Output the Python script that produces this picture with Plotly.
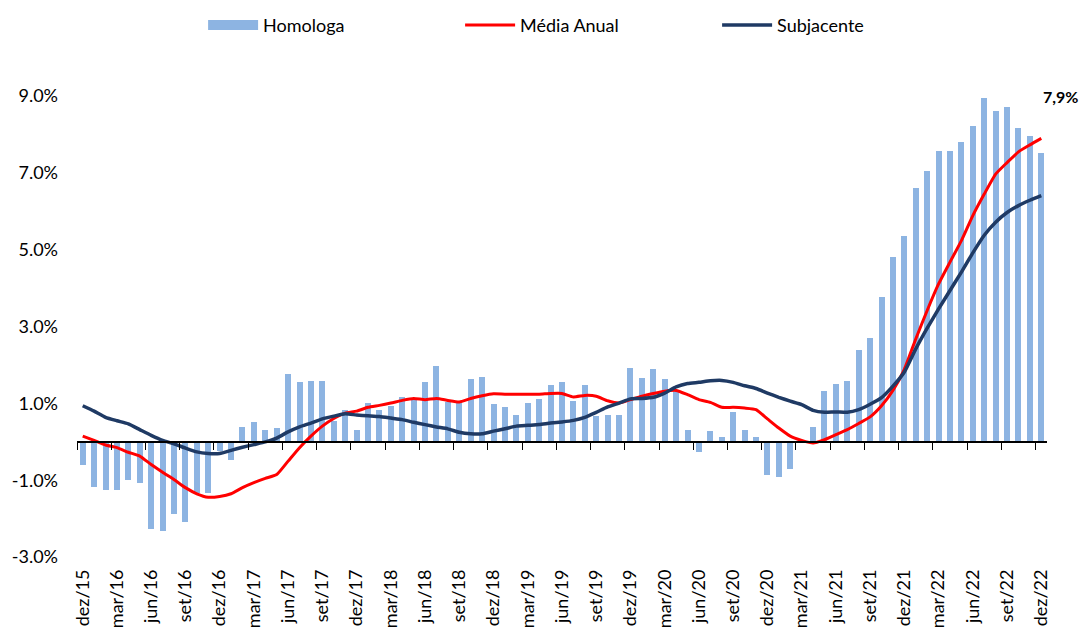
import plotly.graph_objects as go

# monthly series, dez/15 .. dez/22 (85 months), values in %
homologa = [
    -0.59, -1.17, -1.26, -1.26, -0.98, -1.06, -2.28, -2.32, -1.87, -2.09, -1.32, -1.32,
    -0.24, -0.46, 0.40, 0.52, 0.32, 0.37, 1.78, 1.56, 1.59, 1.59, 0.55, 0.82,
    0.30, 1.01, 0.82, 0.93, 1.16, 1.13, 1.55, 1.97, 1.03, 1.03, 1.65, 1.70,
    0.99, 0.91, 0.69, 1.00, 1.12, 1.48, 1.55, 1.06, 1.49, 0.67, 0.71, 0.71,
    1.93, 1.67, 1.90, 1.65, 1.32, 0.32, -0.25, 0.28, 0.12, 0.79, 0.31, 0.12,
    -0.87, -0.92, -0.70, 0.02, 0.39, 1.32, 1.51, 1.58, 2.40, 2.71, 3.78, 4.81,
    5.35, 6.61, 7.04, 7.56, 7.56, 7.81, 8.22, 8.94, 8.60, 8.71, 8.16, 7.97,
    7.53,
]
media_anual = [
    0.15, 0.04, -0.08, -0.15, -0.27, -0.37, -0.59, -0.79, -0.98, -1.19, -1.35, -1.44,
    -1.42, -1.35, -1.19, -1.06, -0.95, -0.85, -0.50, -0.15, 0.15, 0.41, 0.61, 0.75,
    0.80, 0.90, 0.95, 1.01, 1.08, 1.13, 1.10, 1.13, 1.08, 1.04, 1.13, 1.20,
    1.25, 1.24, 1.24, 1.24, 1.24, 1.26, 1.26, 1.17, 1.21, 1.19, 1.07, 1.01,
    1.10, 1.19, 1.26, 1.32, 1.34, 1.23, 1.10, 1.03, 0.90, 0.90, 0.88, 0.84,
    0.60, 0.36, 0.15, 0.04, -0.03, 0.06, 0.19, 0.32, 0.48, 0.65, 0.94, 1.34,
    1.89, 2.68, 3.42, 4.11, 4.68, 5.24, 5.89, 6.45, 6.97, 7.27, 7.55, 7.73,
    7.90,
]
subjacente = [
    0.94, 0.80, 0.64, 0.55, 0.47, 0.32, 0.17, 0.04, -0.05, -0.16, -0.26, -0.30,
    -0.30, -0.22, -0.14, -0.07, 0.00, 0.10, 0.26, 0.39, 0.49, 0.60, 0.67, 0.73,
    0.70, 0.68, 0.66, 0.62, 0.58, 0.51, 0.45, 0.39, 0.34, 0.25, 0.21, 0.21,
    0.28, 0.34, 0.41, 0.43, 0.45, 0.49, 0.52, 0.56, 0.64, 0.77, 0.91, 1.01,
    1.12, 1.13, 1.16, 1.27, 1.43, 1.52, 1.55, 1.59, 1.60, 1.55, 1.46, 1.39,
    1.27, 1.16, 1.06, 0.97, 0.82, 0.77, 0.78, 0.77, 0.84, 0.98, 1.15, 1.45,
    1.82, 2.42, 2.96, 3.46, 3.94, 4.42, 4.92, 5.38, 5.72, 5.97, 6.15, 6.29,
    6.41,
]
# one label every 3 months
tick_labels = [
    "dez/15", "mar/16", "jun/16", "set/16", "dez/16", "mar/17", "jun/17", "set/17",
    "dez/17", "mar/18", "jun/18", "set/18", "dez/18", "mar/19", "jun/19", "set/19",
    "dez/19", "mar/20", "jun/20", "set/20", "dez/20", "mar/21", "jun/21", "set/21",
    "dez/21", "mar/22", "jun/22", "set/22", "dez/22",
]
y_ticks = [-3, -1, 1, 3, 5, 7, 9]
y_tick_labels = ["-3.0%", "-1.0%", "1.0%", "3.0%", "5.0%", "7.0%", "9.0%"]

BAR_BLUE = "#8DB4E2"
RED = "#FF0000"
NAVY = "#1F3A64"
FONT = "Lato"

n = len(homologa)
idx = list(range(n))
x_range = [-0.5, n - 0.5]
y_range = [-3.1, 10.2]
zero_pos = (0 - y_range[0]) / (y_range[1] - y_range[0])

fig = go.Figure()
fig.add_trace(go.Bar(
    x=idx, y=homologa, name="Homologa", width=0.53,
    marker={"color": BAR_BLUE, "line": {"width": 0}},
    showlegend=False,
))
# legend entry for the bars drawn as a wide block like in the original
fig.add_trace(go.Scatter(
    x=[None], y=[None], mode="lines", name="Homologa",
    line={"color": BAR_BLUE, "width": 12}, legendrank=1,
))
fig.add_trace(go.Scatter(
    x=idx, y=media_anual, mode="lines", name="Média Anual",
    line={"color": RED, "width": 3, "shape": "spline", "smoothing": 0.5},
    legendrank=2,
))
fig.add_trace(go.Scatter(
    x=idx, y=subjacente, mode="lines", name="Subjacente", xaxis="x2",
    line={"color": NAVY, "width": 3.5, "shape": "spline", "smoothing": 0.5},
    legendrank=3,
))

last = f"{media_anual[-1]:.1f}%".replace(".", ",")
fig.add_annotation(
    x=n - 1, y=9.0, xref="x", yref="y", text=f"<b>{last}</b>",
    showarrow=False, xshift=19, font={"size": 16, "color": "#000000"},
)

# page body has an 8px margin, so the figure is 16px smaller than the window
fig.update_layout(
    width=1071, height=621,
    paper_bgcolor="#FFFFFF", plot_bgcolor="#FFFFFF",
    font={"family": FONT, "size": 18, "color": "#000000"},
    margin={"l": 69, "r": 32, "t": 42, "b": 68, "autoexpand": False},
    bargap=0,
    xaxis={
        "range": x_range, "tickvals": list(range(0, n, 3)), "ticktext": tick_labels,
        "tickangle": -90, "showline": False, "ticks": "", "showgrid": False,
        "zeroline": False, "automargin": False, "ticklabelstandoff": 4,
    },
    # axis line through zero, tick marks between categories
    xaxis2={
        "overlaying": "x", "anchor": "free", "position": zero_pos, "range": x_range,
        "tickvals": [v - 0.5 for v in range(0, n, 3)], "showticklabels": False,
        "ticks": "outside", "ticklen": 7, "tickwidth": 1.3, "tickcolor": "#000000",
        "showline": True, "linecolor": "#000000", "linewidth": 1.5,
        "showgrid": False, "zeroline": False,
    },
    yaxis={
        "range": y_range, "tickvals": y_ticks, "ticktext": y_tick_labels,
        "showgrid": False, "zeroline": False, "showline": False, "ticks": "",
        "ticklabelstandoff": 18, "automargin": False,
    },
    legend={
        "orientation": "h", "x": 0.13, "xanchor": "left",
        "yref": "container", "y": 0.972, "yanchor": "middle",
        "itemwidth": 50, "entrywidth": 192, "font": {"size": 18},
        "bgcolor": "rgba(0,0,0,0)",
    },
)

fig.write_html("out.html")
